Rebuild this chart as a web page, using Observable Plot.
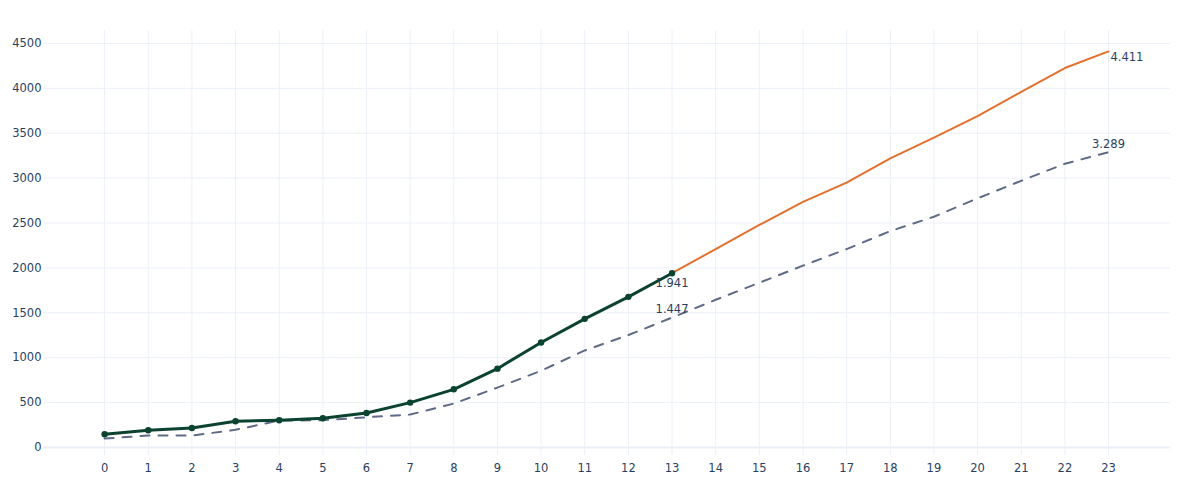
<!DOCTYPE html>
<html>
<head>
<meta charset="utf-8">
<script src="https://cdn.jsdelivr.net/npm/d3@7"></script>
<script src="https://cdn.jsdelivr.net/npm/@observablehq/plot@0.6"></script>
<style>
  body { margin: 0; background: #fff; }
</style>
</head>
<body>
<div id="chart"></div>
<script>
const xTicks = d3.range(0, 24);
const yTicks = [0, 500, 1000, 1500, 2000, 2500, 3000, 3500, 4000, 4500];

const actualX = [0,1,2,3,4,5,6,7,8,9,10,11,12,13];
const actualY = [148,193,218,292,304,326,385,500,648,878,1170,1433,1678,1941];

const forecastX = [13,14,15,16,17,18,19,20,21,22,23];
const forecastY = [1941,2210,2478,2736,2950,3220,3450,3690,3960,4226,4411];

const baselineX = d3.range(0, 24);
const baselineY = [100,133,133,197,300,304,337,367,489,667,855,1081,1252,1447,1645,1835,2025,2210,2410,2570,2775,2970,3160,3289];

const labelText = ["1.941", "1.447", "4.411", "3.289"];
const labelX = [13, 13, 23, 23];
const labelY = [1941, 1447, 4411, 3289];

const actual = actualX.map((x, i) => ({x, y: actualY[i]}));
const forecast = forecastX.map((x, i) => ({x, y: forecastY[i]}));
const baseline = baselineX.map((x, i) => ({x, y: baselineY[i]}));
const labels = labelText.map((t, i) => ({t, x: labelX[i], y: labelY[i]}));

const textColor = "#2a3f5f";
const gridColor = "#ebf0f8";
const fs = 11.5;

const chart = Plot.plot({
  width: 1200,
  height: 500,
  marginLeft: 43,
  marginRight: 30,
  marginTop: 30,
  marginBottom: 45,
  style: { fontFamily: "'DejaVu Sans', Verdana, sans-serif", fontSize: fs + "px", color: textColor, background: "#fff" },
  x: { domain: [-1.4, 24.42], ticks: xTicks, tickSize: 0, tickPadding: 8, label: null, tickFormat: d => String(d) },
  y: { domain: [-89, 4644], ticks: yTicks, tickSize: 0, tickPadding: 2, label: null, tickFormat: d => String(d) },
  marks: [
    Plot.gridX(xTicks, { stroke: gridColor, strokeOpacity: 1 }),
    Plot.gridY(yTicks, { stroke: gridColor, strokeOpacity: 1 }),
    Plot.ruleY([0], { stroke: gridColor, strokeWidth: 2 }),
    Plot.axisX(xTicks, { tickSize: 0, tickPadding: 8, fill: textColor, fontSize: fs, label: null, tickFormat: d => String(d) }),
    Plot.axisY(yTicks, { tickSize: 0, tickPadding: 2, fill: textColor, fontSize: fs, label: null, tickFormat: d => String(d) }),
    Plot.line(baseline, { x: "x", y: "y", stroke: "#5f6b86", strokeWidth: 2, strokeDasharray: "9,9" }),
    Plot.line(forecast, { x: "x", y: "y", stroke: "#e2712f", strokeWidth: 2 }),
    Plot.line(actual, { x: "x", y: "y", stroke: "#0b4230", strokeWidth: 3 }),
    Plot.dot(actual, { x: "x", y: "y", r: 3.2, fill: "#0b4230", stroke: "none" }),
    Plot.text([labels[0]], { x: "x", y: "y", text: "t", dy: 10, fill: textColor, fontSize: fs }),
    Plot.text([labels[1]], { x: "x", y: "y", text: "t", dy: -8, fill: textColor, fontSize: fs }),
    Plot.text([labels[2]], { x: "x", y: "y", text: "t", dx: 2, dy: 6, textAnchor: "start", fill: textColor, fontSize: fs }),
    Plot.text([labels[3]], { x: "x", y: "y", text: "t", dy: -8, fill: textColor, fontSize: fs })
  ]
});
document.getElementById("chart").appendChild(chart);
</script>
</body>
</html>
